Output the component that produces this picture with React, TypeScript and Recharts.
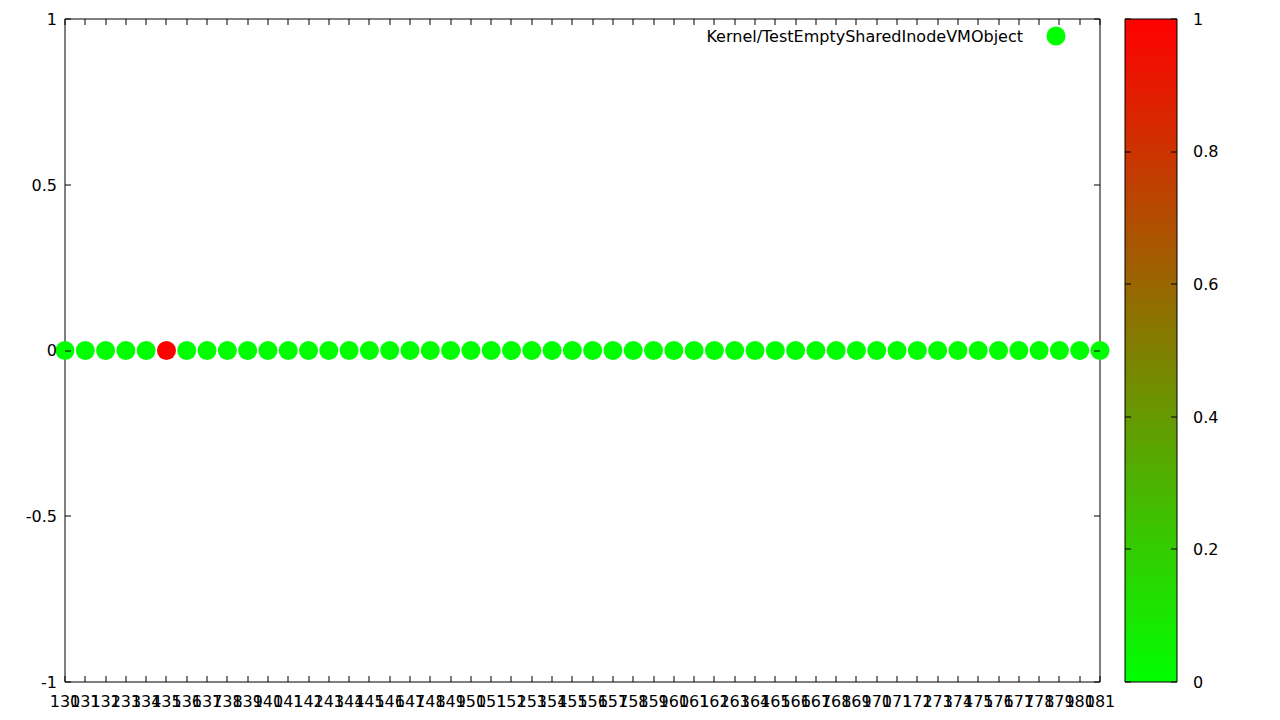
import { ScatterChart, Scatter, XAxis, YAxis, ComposedChart, Bar } from 'recharts';

const seriesName = 'Kernel/TestEmptySharedInodeVMObject';

// x positions (test run ids) 130..181
const runIds = [
  130, 131, 132, 133, 134, 135, 136, 137, 138, 139, 140, 141, 142, 143, 144, 145, 146, 147,
  148, 149, 150, 151, 152, 153, 154, 155, 156, 157, 158, 159, 160, 161, 162, 163, 164, 165,
  166, 167, 168, 169, 170, 171, 172, 173, 174, 175, 176, 177, 178, 179, 180, 181,
];
const yValues = [
  0, 0, 0, 0, 0, 0, 0, 0, 0, 0, 0, 0, 0, 0, 0, 0, 0, 0,
  0, 0, 0, 0, 0, 0, 0, 0, 0, 0, 0, 0, 0, 0, 0, 0, 0, 0,
  0, 0, 0, 0, 0, 0, 0, 0, 0, 0, 0, 0, 0, 0, 0, 0,
];
// palette value per point (0 = green, 1 = red)
const colorValues = [
  0, 0, 0, 0, 0, 1, 0, 0, 0, 0, 0, 0, 0, 0, 0, 0, 0, 0,
  0, 0, 0, 0, 0, 0, 0, 0, 0, 0, 0, 0, 0, 0, 0, 0, 0, 0,
  0, 0, 0, 0, 0, 0, 0, 0, 0, 0, 0, 0, 0, 0, 0, 0,
];
const yTicks = [-1, -0.5, 0, 0.5, 1];
const cbTicks = [0, 0.2, 0.4, 0.6, 0.8, 1];

const data = runIds.map((x, i) => ({ x, y: yValues[i], c: colorValues[i] }));
const cbData = [{ name: 'cb', v: 1 }];

const FONT = '"DejaVu Sans", sans-serif';
const TICK_LEN = 6;

function palette(v: number) {
  const r = Math.round(255 * v);
  const g = Math.round(255 * (1 - v));
  return `rgb(${r},${g},0)`;
}

function Dot(props: any) {
  const { cx, cy, payload } = props;
  return <circle cx={cx} cy={cy} r={9.5} fill={palette(payload.c)} />;
}

const Nothing = () => <g />;

// gnuplot style ticks: a 1px mark drawn inward from the axis line, label outside
function makeTick(side: 'left' | 'right' | 'top' | 'bottom', showLabel: boolean, gap = 8) {
  return function Tick(props: any) {
    const { x, y, payload } = props;
    const label = String(payload.value);
    const px = Math.round(x);
    const py = Math.round(y);
    let mark;
    let text = null;
    if (side === 'left') {
      mark = <rect x={px} y={py - 0.5} width={TICK_LEN} height={1} />;
      if (showLabel) text = <text x={x - gap} y={y} dy="0.36em" textAnchor="end">{label}</text>;
    } else if (side === 'right') {
      mark = <rect x={px - TICK_LEN} y={py - 0.5} width={TICK_LEN} height={1} />;
      if (showLabel) text = <text x={x + gap} y={y} dy="0.36em" textAnchor="start">{label}</text>;
    } else if (side === 'bottom') {
      mark = <rect x={px - 0.5} y={py - TICK_LEN} width={1} height={TICK_LEN} />;
      if (showLabel) text = <text x={x} y={y + 25} textAnchor="middle">{label}</text>;
    } else {
      mark = <rect x={px - 0.5} y={py} width={1} height={TICK_LEN} />;
    }
    return (
      <g fontFamily={FONT} fontSize={16} fill="#000" stroke="none">
        {mark}
        {text}
      </g>
    );
  };
}

const BottomTick = makeTick('bottom', true);
const TopTick = makeTick('top', false);
const LeftTick = makeTick('left', true);
const RightTick = makeTick('right', false);
const CbRightTick = makeTick('right', true, 16);
const CbLeftTick = makeTick('left', false);

const flatAxis = { tickSize: 0, tickMargin: 0, tickLine: false, interval: 0 as const };

export default function App() {
  return (
    <div style={{ position: 'relative', width: 1280, height: 720, background: '#fff' }}>
      <style>{`body{margin:0}`}</style>
      <div style={{ position: 'absolute', left: 0, top: 0 }}>
        <ScatterChart width={1280} height={720} margin={{ top: 18, right: 179, bottom: 8, left: 0 }}>
          <XAxis
            {...flatAxis}
            dataKey="x"
            type="number"
            domain={[130, 181]}
            ticks={runIds}
            height={30}
            stroke="#000"
            tick={<BottomTick />}
          />
          <XAxis
            {...flatAxis}
            xAxisId="top"
            dataKey="x"
            orientation="top"
            type="number"
            domain={[130, 181]}
            ticks={runIds}
            height={1}
            stroke="#000"
            tick={<TopTick />}
          />
          <YAxis
            {...flatAxis}
            dataKey="y"
            type="number"
            domain={[-1, 1]}
            ticks={yTicks}
            width={65}
            stroke="#000"
            tick={<LeftTick />}
          />
          <YAxis
            {...flatAxis}
            yAxisId="right"
            dataKey="y"
            orientation="right"
            type="number"
            domain={[-1, 1]}
            ticks={yTicks}
            width={1}
            stroke="#000"
            tick={<RightTick />}
          />
          {/* invisible copy bound to the mirror axes so they get drawn */}
          <Scatter data={data} xAxisId="top" yAxisId="right" shape={<Nothing />} legendType="none" isAnimationActive={false} />
          <Scatter name={seriesName} data={data} shape={<Dot />} isAnimationActive={false} />
        </ScatterChart>
      </div>

      {/* key, top right inside the plot */}
      <div
        style={{
          position: 'absolute', top: 26, right: 1280 - 1066, display: 'flex', alignItems: 'center',
          fontFamily: FONT, fontSize: 16, color: '#000', whiteSpace: 'nowrap',
        }}
      >
        <span>{seriesName}</span>
        <svg width={20} height={20} style={{ marginLeft: 23 }}>
          <circle cx={10} cy={10} r={9.5} fill={palette(0)} />
        </svg>
      </div>

      {/* colour box */}
      <div style={{ position: 'absolute', left: 1100, top: 0 }}>
        <ComposedChart
          width={180}
          height={720}
          data={cbData}
          margin={{ top: 19, right: 0, bottom: 38, left: 24 }}
          barCategoryGap={0}
        >
          <defs>
            <linearGradient id="cbGrad" x1="0" y1="1" x2="0" y2="0">
              <stop offset="0%" stopColor={palette(0)} />
              <stop offset="100%" stopColor={palette(1)} />
            </linearGradient>
          </defs>
          <XAxis dataKey="name" hide />
          <Bar dataKey="v" fill="url(#cbGrad)" stroke="#000" strokeWidth={1} isAnimationActive={false} />
          <Scatter dataKey="v" yAxisId="cbLeft" shape={<Nothing />} legendType="none" isAnimationActive={false} />
          <YAxis
            {...flatAxis}
            orientation="right"
            type="number"
            domain={[0, 1]}
            ticks={cbTicks}
            width={103}
            axisLine={false}
            tick={<CbRightTick />}
          />
          <YAxis
            {...flatAxis}
            yAxisId="cbLeft"
            orientation="left"
            type="number"
            domain={[0, 1]}
            ticks={cbTicks}
            width={1}
            axisLine={false}
            tick={<CbLeftTick />}
          />
        </ComposedChart>
      </div>
    </div>
  );
}
